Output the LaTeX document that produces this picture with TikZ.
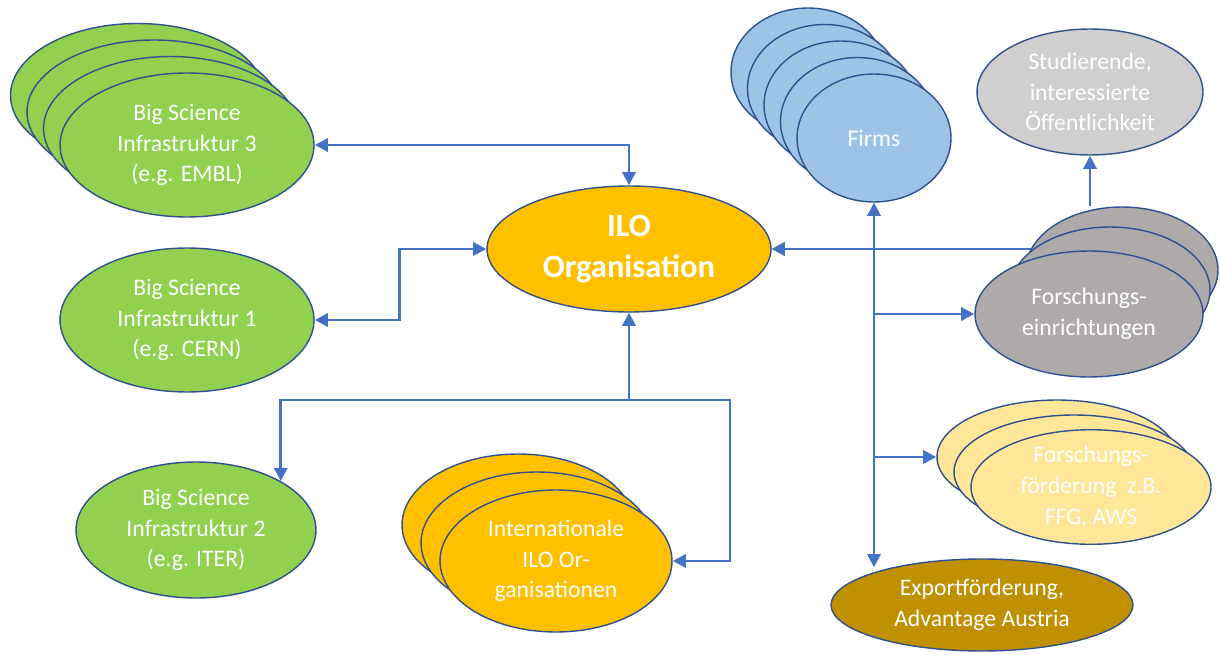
\documentclass[tikz,border=0pt]{standalone}
\usepackage{fontspec}
\setmainfont{Carlito}
\usetikzlibrary{positioning,arrows.meta,calc,shapes.geometric}
\definecolor{rim}{HTML}{2F528F}
\definecolor{link}{HTML}{4472C4}
\definecolor{scigreen}{HTML}{92D050}
\definecolor{ilogold}{HTML}{FFC000}
\definecolor{firmblue}{HTML}{9DC3E6}
\definecolor{resgray}{HTML}{AEAAAA}
\definecolor{pubgray}{HTML}{D0CECE}
\definecolor{fundyellow}{HTML}{FFE699}
\definecolor{expgold}{HTML}{BF9000}
\tikzset{
    x=0.02cm,
    y=-0.02cm,
    bubble/.style = {
        draw=rim,
        shape=ellipse,
        line width=0.8pt,
        inner sep=0pt,
        text=white,
        align=center,
        font=\fontsize{13.5}{17.5}\selectfont
    },
    science/.style = {bubble, fill=scigreen, minimum width=5.08cm, minimum height=2.88cm},
    ilo/.style = {bubble, fill=ilogold},
    firm/.style = {bubble, fill=firmblue, minimum width=3.08cm, minimum height=2.56cm},
    research/.style = {bubble, fill=resgray, minimum height=2.52cm},
    funding/.style = {bubble, fill=fundyellow, minimum width=4.8cm, minimum height=2.28cm},
    arr/.style = {draw=link, line width=1.6pt, -{Triangle[length=7.5pt,width=7.5pt]}},
    dbl/.style = {arr, {Triangle[length=7.5pt,width=7.5pt]}-{Triangle[length=7.5pt,width=7.5pt]}},
}

\begin{document}
\begin{tikzpicture}
    \useasboundingbox (0,0) rectangle (1220,655);

    % left: big science
    \node[science] (bs3d) at (137.5,95.5) {};
    \node[science] (bs3c) at (154,112) {};
    \node[science] (bs3b) at (170.5,128.5) {};
    \node[science] (bs3) at (187,145) {Big Science\\Infrastruktur 3\\(e.g. EMBL)};
    \node[science] (bs1) at (187,320) {Big Science\\Infrastruktur 1\\(e.g. CERN)};
    \node[science, minimum width=4.8cm, minimum height=2.72cm] (bs2) at (196,530)
        {Big Science\\Infrastruktur 2\\(e.g. ITER)};

    % centre
    \node[ilo, minimum width=5.68cm, minimum height=2.52cm,
        font=\fontsize{18.5}{23.5}\selectfont\bfseries] (ilo) at (629,249) {ILO\\Organisation};
    \node[ilo, minimum width=4.64cm, minimum height=2.84cm] (intc) at (518,525) {};
    \node[ilo, minimum width=4.64cm, minimum height=2.84cm] (intb) at (537,543) {};
    \node[ilo, minimum width=4.64cm, minimum height=2.84cm] (inta) at (556,561)
        {Internationale\\ILO Or-\\ganisationen};

    % right
    \node[firm] (firme) at (808,72) {};
    \node[firm] (firmd) at (824.5,88.5) {};
    \node[firm] (firmc) at (841,105) {};
    \node[firm] (firmb) at (857.5,121.5) {};
    \node[firm] (firms) at (874,138) {Firms};

    \node[bubble, fill=pubgray, minimum width=4.52cm, minimum height=2.52cm] (stud) at (1090,92)
        {Studierende,\\interessierte\\Öffentlichkeit};

    \node[research, minimum width=3.84cm] (fe3) at (1122,270) {};
    \node[research, minimum width=4cm] (fe2) at (1110,290) {};
    \node[research, minimum width=4.56cm] (fe1) at (1089,314) {Forschungs-\\einrichtungen};

    \node[funding] (ff3) at (1057,457) {};
    \node[funding] (ff2) at (1074,472) {};
    \node[funding] (ff1) at (1091,487) {Forschungs-\\förderung~~z.B.\\FFG, AWS};

    \node[bubble, fill=expgold, minimum width=6.04cm, minimum height=1.84cm] (export) at (982,605)
        {Exportförderung,\\Advantage Austria};

    % connectors left
    \coordinate (split) at (ilo.south |- 0,400);
    \draw[dbl] (bs3.east) -| (ilo.north);
    \draw[dbl] (ilo.west) -- ++(-87,0) |- (bs1.east);
    \draw[arr] (split) -- (ilo.south);
    \draw[arr] (split) -| (bs2.30);
    \draw[arr] (split) -- ++(101,0) |- (inta.east);

    % connectors right
    \draw[dbl] (firms.south) -- ([yshift=-0.18cm]firms.south |- export.north);
    \draw[arr] (firms.south |- ilo.east) -- (ilo.east);
    \draw[arr] (fe3.167) -- (fe3.167 -| ilo.east);
    \draw[arr] (firms.south |- fe1.west) -- (fe1.west);
    \draw[arr] (firms.south |- ff3.west) -- (ff3.west);
    \draw[arr] (stud.south |- fe3.north) -- (stud.south);
\end{tikzpicture}
\end{document}
